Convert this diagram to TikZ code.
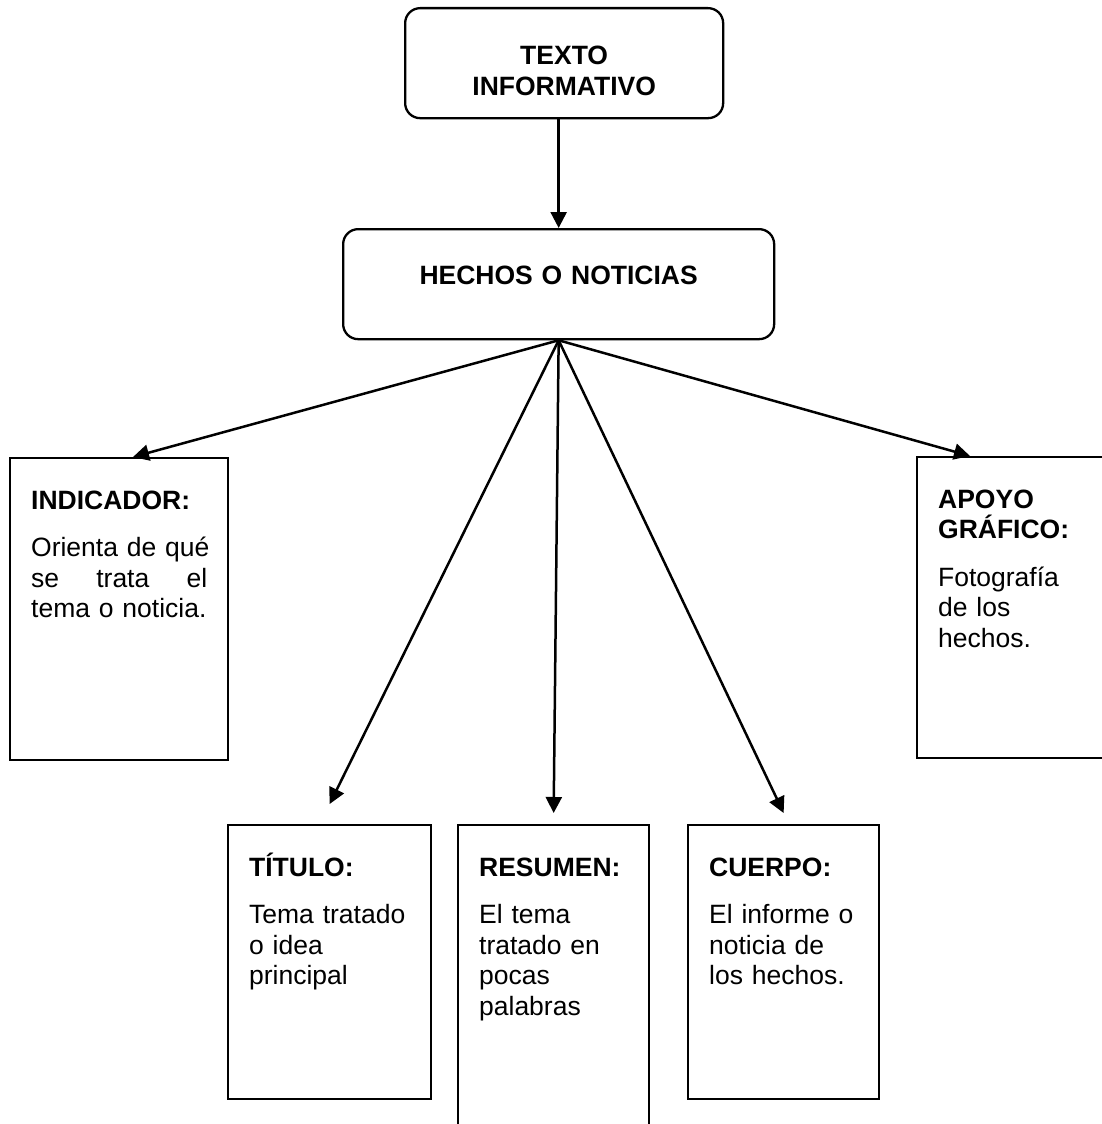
\documentclass[tikz,border=0pt]{standalone}
\usepackage{fontspec}
\setmainfont{Liberation Sans}
\usepackage{tikz}
\usetikzlibrary{positioning,calc,arrows.meta}

\begin{document}
\begin{tikzpicture} [x=1pt, y=-1pt,
	caja/.style={draw=black, line width=2.3pt, anchor=north west, inner xsep=21pt, inner ysep=0pt, align=left, text height=51pt, font=\fontsize{26.5}{30.5}\selectfont},
	redondo/.style={draw=black, line width=2.3pt, rounded corners=15pt, anchor=north west, inner sep=0pt, align=center, text height=55pt, text depth=55pt, font=\fontsize{26.5}{31}\selectfont\bfseries},
	flecha/.style={black, line width=2.5pt, -{Triangle[width=16pt,length=16pt]}}]
	\useasboundingbox (0, 0) rectangle (1102, 1124);

	\node [redondo, text width=318pt, text height=56pt, text depth=54pt] (texto) at (404, 7) {TEXTO\\INFORMATIVO};
	\node [redondo, text width=431pt] (hechos) at (342, 228) {HECHOS O NOTICIAS};

	\node [caja, text width=176pt, text depth=251pt] (ind) at (9, 457) {\textbf{INDICADOR:}\\[17pt]\mbox{Orienta de qué}\\\makebox[176pt][s]{se\hfill trata\hfill el}\\tema o noticia.};
	\node [caja, text width=161pt, text depth=223pt] (tit) at (227, 824) {\textbf{TÍTULO:}\\[17pt]Tema tratado\\o idea\\principal};
	\node [caja, text width=149pt, text depth=330pt] (res) at (457, 824) {\textbf{RESUMEN:}\\[17pt]El tema\\tratado en\\pocas\\palabras};
	\node [caja, text width=149pt, text depth=223pt] (cue) at (687, 824) {\textbf{CUERPO:}\\[17pt]El informe o\\noticia de\\los hechos.};
	\node [caja, text width=176pt, text depth=250pt] (apo) at (916, 456) {\textbf{APOYO}\\\textbf{GRÁFICO:}\\[17pt]Fotografía\\de los\\hechos.};

	\coordinate (pInd) at ($(ind.north west)+(124, 0)$);
	\coordinate (pTit) at ($(tit.north)+(0, -20)$);
	\coordinate (pRes) at ($(res.north)+(0, -11)$);
	\coordinate (pCue) at ($(cue.north)+(0, -11)$);
	\coordinate (pApo) at ($(apo.north west)+(54, 0)$);

	\draw [flecha] (texto.south -| hechos.north) -- (hechos.north);
	\draw [flecha] (hechos.south) -- (pInd);
	\draw [flecha] (hechos.south) -- (pTit);
	\draw [flecha] (hechos.south) -- (pRes);
	\draw [flecha] (hechos.south) -- (pCue);
	\draw [flecha] (hechos.south) -- (pApo);
\end{tikzpicture}
\end{document}
